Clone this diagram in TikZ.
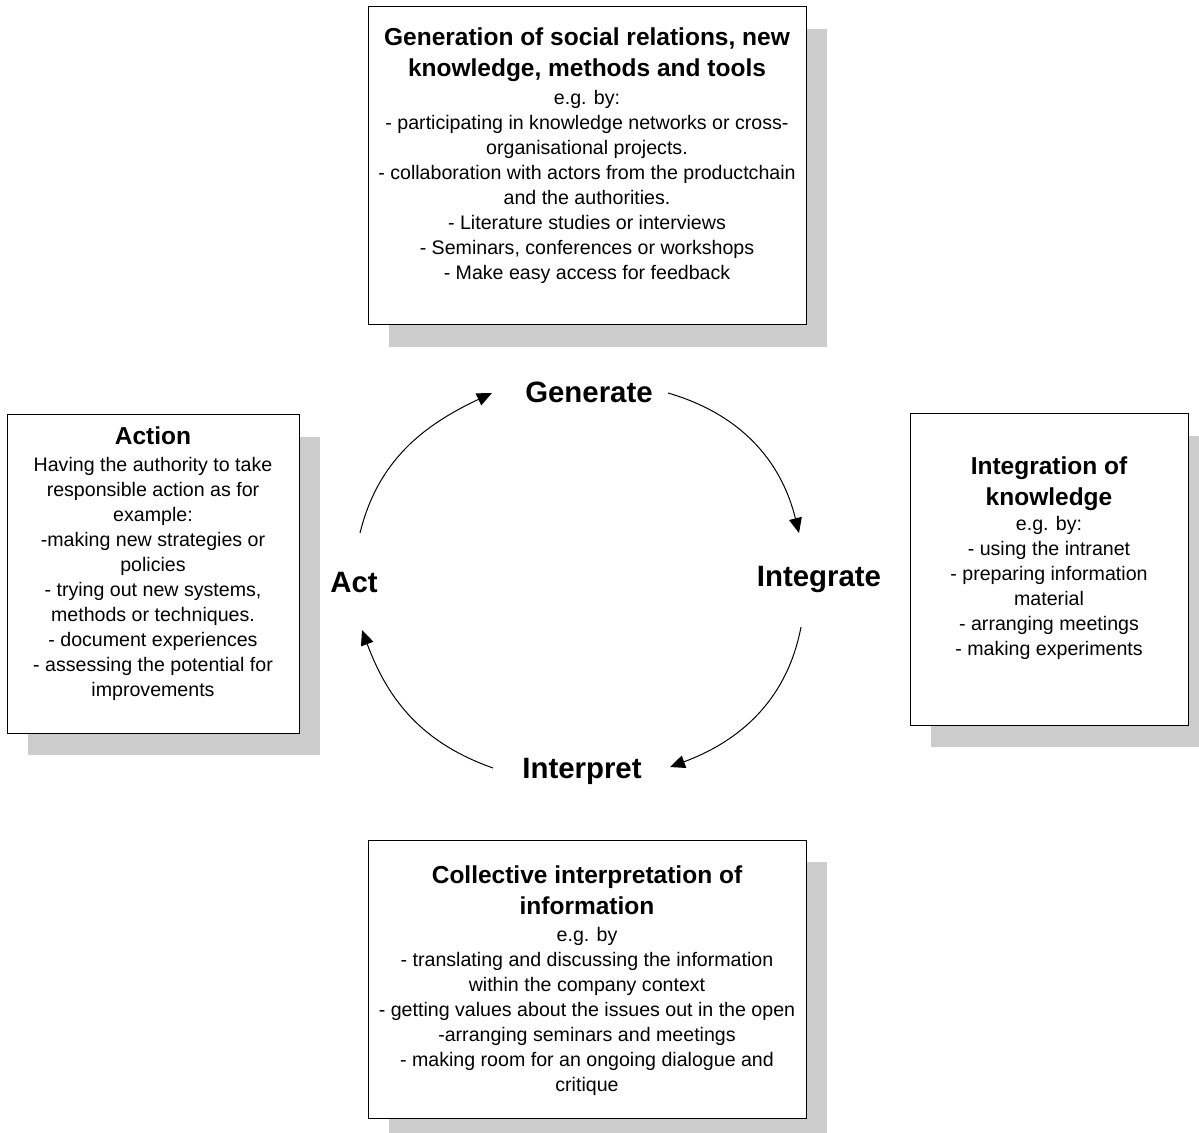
\documentclass[tikz,border=0pt]{standalone}
\usepackage{fontspec}
\setmainfont{Liberation Sans}
\usetikzlibrary{arrows.meta,shadows}

\tikzset{
  card/.style={rectangle, draw=black, line width=0.5pt, fill=white, inner sep=0pt,
    drop shadow={shadow xshift=10.5pt, shadow yshift=-11pt, fill=black!20, opacity=1}},
  cardtext/.style={anchor=north, align=center, inner sep=0pt,
    font=\fontsize{9.8}{12.5}\selectfont},
  phase/.style={anchor=base, inner sep=0pt, font=\bfseries\fontsize{14.7}{16}\selectfont},
  cyclearrow/.style={line width=0.5pt, -{Triangle[length=7.5pt,width=6.5pt]}},
}
\newcommand{\cardtitle}[1]{{\bfseries\fontsize{12.25}{12.5}\selectfont #1}}

\begin{document}
\begin{tikzpicture}[x=0.5pt,y=-0.5pt]
  \useasboundingbox (0,0) rectangle (1199,1133);
  \clip (0,0) rectangle (1199,1133);

  % the four boxes with their shadows
  \node[card, minimum width=219pt, minimum height=159pt] (genbox) at (587,166) {};
  \node[card, minimum width=146pt, minimum height=159pt] (actbox) at (153,574) {};
  \node[card, minimum width=139pt, minimum height=155.5pt] (intbox) at (1049,569.5) {};
  \node[card, minimum width=219pt, minimum height=139pt] (interpbox) at (587,979) {};

  % box contents
  \node[cardtext] (gentext) at (587,27) {%
    \cardtitle{Generation of social relations, new}\\[3pt]
    \cardtitle{knowledge, methods and tools}\\[1.5pt]
    e.g. by:\\
    - participating in knowledge networks or cross-\\
    organisational projects.\\
    - collaboration with actors from the productchain\\
    and the authorities.\\
    - Literature studies or interviews\\
    - Seminars, conferences or workshops\\
    - Make easy access for feedback};

  \node[cardtext] (acttext) at (153,426) {%
    \cardtitle{Action}\\[1pt]
    Having the authority to take\\
    responsible action as for\\
    example:\\
    -making new strategies or\\
    policies\\
    - trying out new systems,\\
    methods or techniques.\\
    - document experiences\\
    - assessing the potential for\\
    improvements};

  \node[cardtext] (inttext) at (1049,456) {%
    \cardtitle{Integration of}\\[3pt]
    \cardtitle{knowledge}\\[0.3pt]
    e.g. by:\\
    - using the intranet\\
    - preparing information\\
    material\\
    - arranging meetings\\
    - making experiments};

  \node[cardtext] (interptext) at (587,865) {%
    \cardtitle{Collective interpretation of}\\[3pt]
    \cardtitle{information}\\[1.3pt]
    e.g. by\\
    - translating and discussing the information\\
    within the company context\\
    - getting values about the issues out in the open\\
    -arranging seminars and meetings\\
    - making room for an ongoing dialogue and\\
    critique};

  % cycle labels
  \node[phase] (generate) at (589,403) {Generate};
  \node[phase] (integrate) at (819,587) {Integrate};
  \node[phase] (interpret) at (582,778) {Interpret};
  \node[phase] (act) at (354,593) {Act};

  % end points of the cycle arrows
  \coordinate (act-out) at (360,533);
  \coordinate (gen-in) at (492,393);
  \coordinate (gen-out) at (668,393);
  \coordinate (int-in) at (799,533);
  \coordinate (int-out) at (801,627);
  \coordinate (interp-in) at (670,767);
  \coordinate (interp-out) at (493,768);
  \coordinate (act-in) at (362,630);

  % cycle arrows
  \draw[cyclearrow] (act-out) .. controls (378,460) and (424,425) .. (gen-in);
  \draw[cyclearrow] (gen-out) .. controls (740,414) and (781,460) .. (int-in);
  \draw[cyclearrow] (int-out) .. controls (787,700) and (740,741) .. (interp-in);
  \draw[cyclearrow] (interp-out) .. controls (422,743) and (388,700) .. (act-in);
\end{tikzpicture}
\end{document}
